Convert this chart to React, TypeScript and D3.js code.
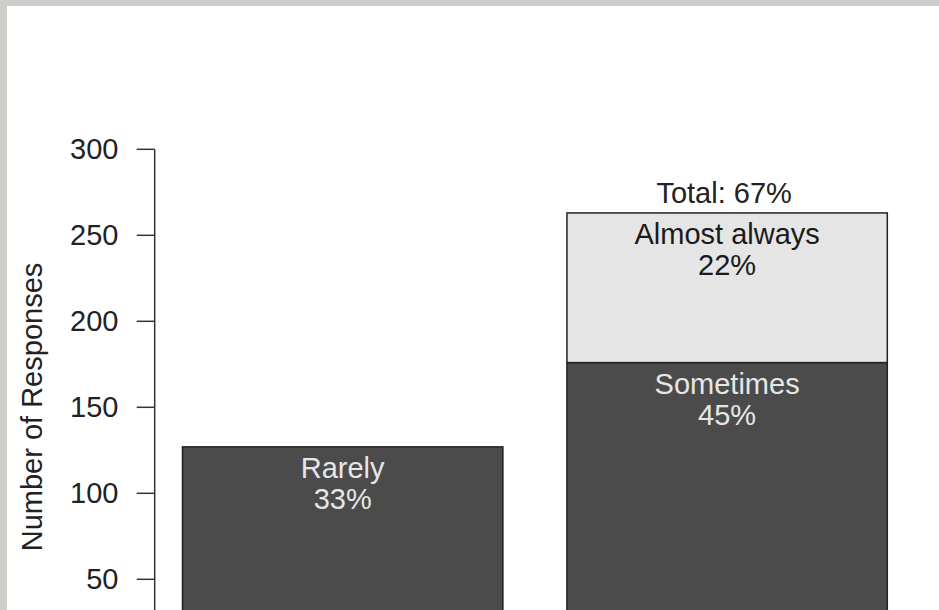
import { scaleLinear, scaleBand, sum } from "d3";

// bars and their stacked segments
const categories = ["Rarely", "Sometimes or more"];
const segmentNames = ["Rarely", "Sometimes", "Almost always"];
const segmentValues = [127, 176, 87];
const segmentBar = [0, 1, 1];
const segmentShade = ["dark", "dark", "light"];
const yTicks = [50, 100, 150, 200, 250, 300];
const yLabel = "Number of Responses";

const W = 939;
const H = 610;
const font = "'Liberation Sans', Arial, Helvetica, sans-serif";
const fs = 29;

const colors: Record<string, { fill: string; text: string }> = {
  dark: { fill: "#4b4b4b", text: "#e6e6e6" },
  light: { fill: "#e5e5e5", text: "#1a1a1a" },
};

const App = () => {
  const y = scaleLinear().domain([0, 300]).range([665.3, 149.3]);
  const x = scaleBand()
    .domain(categories)
    .range([182.5, 887.3])
    .paddingInner(0.2 / 1.2)
    .paddingOuter(0);

  const grand = sum(segmentValues);
  const axisX = 154.7;

  // stack segments per bar
  const base: number[] = categories.map(() => 0);
  const segs = segmentValues.map((v, i) => {
    const b = segmentBar[i];
    const y0 = base[b];
    base[b] += v;
    return { name: segmentNames[i], v, b, y0, y1: y0 + v, shade: segmentShade[i] };
  });

  return (
    <div style={{ position: "absolute", left: 0, top: 0 }}>
      <svg width={W} height={H} style={{ display: "block" }} fontFamily={font}>
        <rect x={0} y={0} width={W} height={H} fill="#cfcdc9" />
        <rect x={7} y={6} width={W - 7} height={H - 6} fill="#ffffff" />

        {/* y axis */}
        <line x1={axisX} x2={axisX} y1={y(300)} y2={H} stroke="#333" strokeWidth={1.5} />
        {yTicks.map((t) => (
          <g key={t}>
            <line x1={axisX - 18} x2={axisX} y1={y(t)} y2={y(t)} stroke="#333" strokeWidth={1.5} />
            <text x={118.5} y={y(t) + 10} textAnchor="end" fontSize={fs} fill="#222">
              {t}
            </text>
          </g>
        ))}
        <text
          transform={`translate(42, 407) rotate(-90)`}
          textAnchor="middle"
          fontSize={fs}
          fill="#222"
        >
          {yLabel}
        </text>

        {/* bars */}
        {segs.map((s) => {
          const cat = categories[s.b];
          const x0 = x(cat)!;
          const top = y(s.y1);
          const cx = x0 + x.bandwidth() / 2;
          const c = colors[s.shade];
          return (
            <g key={s.name}>
              <rect
                x={x0}
                y={top}
                width={x.bandwidth()}
                height={y(s.y0) - top}
                fill={c.fill}
                stroke="#222"
                strokeWidth={1.5}
              />
              <text x={cx} y={top + 31.5} textAnchor="middle" fontSize={fs} fill={c.text}>
                {s.name}
              </text>
              <text x={cx} y={top + 62} textAnchor="middle" fontSize={fs} fill={c.text}>
                {`${Math.round((s.v / grand) * 100)}%`}
              </text>
            </g>
          );
        })}

        {/* totals above multi-segment bars */}
        {categories.map((cat, b) => {
          const n = segmentBar.filter((d) => d === b).length;
          if (n < 2) return null;
          const tot = base[b];
          return (
            <text
              key={cat}
              x={x(cat)! + x.bandwidth() / 2 - 3}
              y={y(tot) - 10}
              textAnchor="middle"
              fontSize={fs}
              fill="#222"
            >
              {`Total: ${Math.round((tot / grand) * 100)}%`}
            </text>
          );
        })}
      </svg>
    </div>
  );
};

export default App;
